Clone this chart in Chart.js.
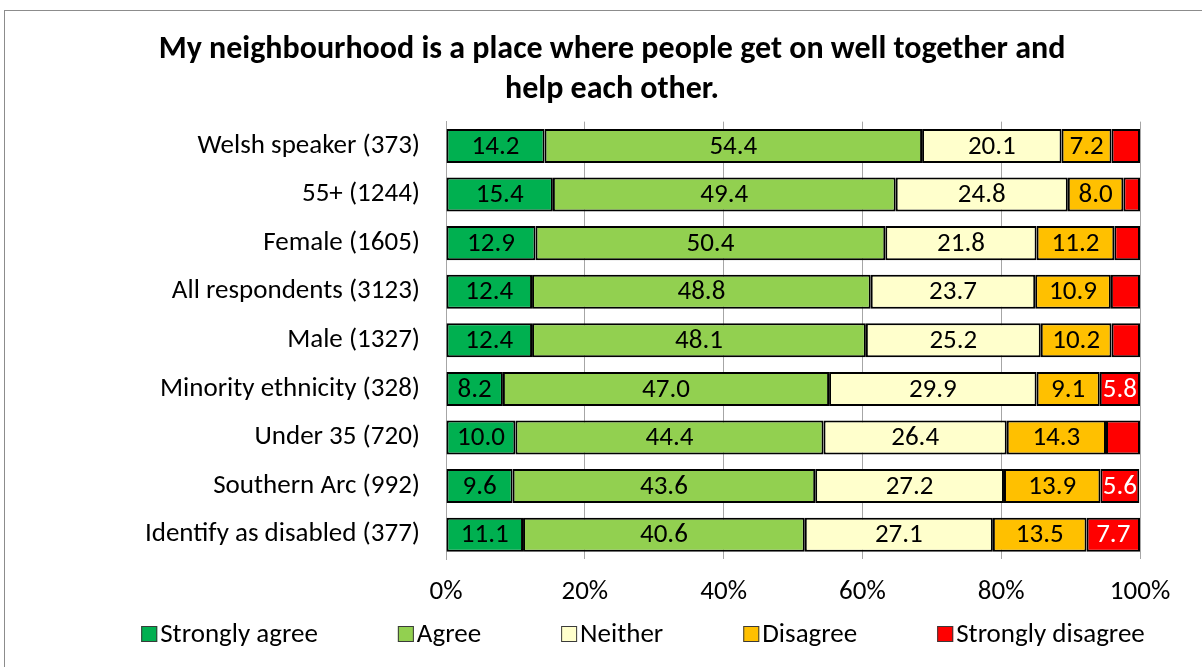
<!DOCTYPE html>
<html>
<head>
<meta charset="utf-8">
<title>Neighbourhood cohesion</title>
<script src="https://cdn.jsdelivr.net/npm/chart.js@4"></script>
<style>
  html, body { margin: 0; padding: 0; background: #fff; overflow: hidden; }
  #frame {
    position: absolute; left: 4px; top: 10px; width: 1300px; height: 800px;
    border-top: 1px solid #8c8c8c; border-left: 1px solid #8c8c8c;
  }
  #wrap { position: absolute; left: 0; top: 0; width: 1202px; height: 667px; }
</style>
</head>
<body>
<div id="frame"></div>
<div id="wrap"><canvas id="barChart"></canvas></div>
<script>
const groups = [
  "Welsh speaker (373)",
  "55+ (1244)",
  "Female (1605)",
  "All respondents (3123)",
  "Male (1327)",
  "Minority ethnicity (328)",
  "Under 35 (720)",
  "Southern Arc (992)",
  "Identify as disabled (377)"
];
const stronglyAgree    = [14.2, 15.4, 12.9, 12.4, 12.4, 8.2, 10.0, 9.6, 11.1];
const agree            = [54.4, 49.4, 50.4, 48.8, 48.1, 47.0, 44.4, 43.6, 40.6];
const neither          = [20.1, 24.8, 21.8, 23.7, 25.2, 29.9, 26.4, 27.2, 27.1];
const disagree         = [7.2, 8.0, 11.2, 10.9, 10.2, 9.1, 14.3, 13.9, 13.5];
const stronglyDisagree = [4.1, 2.4, 3.7, 4.2, 4.1, 5.8, 4.9, 5.6, 7.7];
const xTicks = [0, 20, 40, 60, 80, 100];

const FONT = "Calibri, Carlito, Lato, sans-serif";
const FONT_SIZE = 27;

// writes the value in the middle of each segment (small ones are skipped)
const segmentLabels = {
  id: "segmentLabels",
  afterDatasetsDraw(chart) {
    const ctx = chart.ctx;
    ctx.save();
    ctx.font = FONT_SIZE + "px " + FONT;
    ctx.textAlign = "center";
    ctx.textBaseline = "middle";
    chart.data.datasets.forEach((ds, i) => {
      const meta = chart.getDatasetMeta(i);
      meta.data.forEach((bar, j) => {
        const v = ds.data[j];
        if (v < 5) return;
        ctx.fillStyle = ds.labelColor;
        ctx.fillText(v.toFixed(1), (bar.x + bar.base) / 2, bar.y + 1);
      });
    });
    ctx.restore();
  }
};

// legend row under the axis, spaced out like the office style
const wideLegend = {
  id: "wideLegend",
  afterDraw(chart) {
    const ctx = chart.ctx;
    const box = 16, gap = 80, textGap = 3;
    ctx.save();
    ctx.font = FONT_SIZE + "px " + FONT;
    ctx.textBaseline = "middle";
    const items = chart.data.datasets.map(ds => ({
      text: ds.label, color: ds.backgroundColor, w: box + textGap + ctx.measureText(ds.label).width
    }));
    const total = items.reduce((s, it) => s + it.w, 0) + gap * (items.length - 1);
    let x = chart.width / 2 + 42 - total / 2;
    const y = chart.chartArea.bottom + 75;
    items.forEach(it => {
      ctx.fillStyle = it.color;
      ctx.fillRect(x, y - box / 2, box, box);
      ctx.strokeStyle = "#3a3a3a";
      ctx.lineWidth = 1;
      ctx.strokeRect(x + 0.5, y - box / 2 + 0.5, box - 1, box - 1);
      ctx.fillStyle = "#000";
      ctx.fillText(it.text, x + box + textGap, y + 1);
      x += it.w + gap;
    });
    ctx.restore();
  }
};

function series(label, data, color, labelColor) {
  return {
    label, data,
    backgroundColor: color,
    borderColor: "#000",
    borderWidth: 2,
    borderSkipped: false,
    barPercentage: 0.7,
    categoryPercentage: 1,
    labelColor
  };
}

new Chart(document.getElementById("barChart"), {
  type: "bar",
  data: {
    labels: groups,
    datasets: [
      series("Strongly agree", stronglyAgree, "#00B050", "#000"),
      series("Agree", agree, "#92D050", "#000"),
      series("Neither", neither, "#FFFFCC", "#000"),
      series("Disagree", disagree, "#FFC000", "#000"),
      series("Strongly disagree", stronglyDisagree, "#FF0000", "#fff")
    ]
  },
  options: {
    indexAxis: "y",
    responsive: true,
    maintainAspectRatio: false,
    animation: false,
    layout: { padding: { left: 84, right: 62, top: 10, bottom: 60 } },
    scales: {
      x: {
        stacked: true,
        min: 0,
        max: 100,
        afterBuildTicks: (scale) => { scale.ticks = xTicks.map(v => ({ value: v })); },
        afterFit: (scale) => { scale.height = 48; },
        ticks: {
          callback: (v) => v + "%",
          color: "#000",
          padding: 17,
          maxRotation: 0,
          font: { family: FONT, size: FONT_SIZE }
        },
        grid: { color: "#a6a6a6", lineWidth: 1, drawTicks: false },
        border: { display: false }
      },
      y: {
        stacked: true,
        afterFit: (scale) => { scale.width = 362; },
        ticks: {
          color: "#000",
          padding: 26,
          font: { family: FONT, size: FONT_SIZE }
        },
        grid: { display: false, drawTicks: false },
        border: { color: "#a6a6a6" }
      }
    },
    plugins: {
      legend: { display: false },
      tooltip: { enabled: false },
      title: {
        display: true,
        text: ["My neighbourhood is a place where people get on well together and", "help each other."],
        color: "#000",
        font: { family: FONT, size: 32, weight: "bold", lineHeight: 1.26 },
        padding: { top: 20, bottom: 11 }
      }
    }
  },
  plugins: [segmentLabels, wideLegend]
});
</script>
</body>
</html>
